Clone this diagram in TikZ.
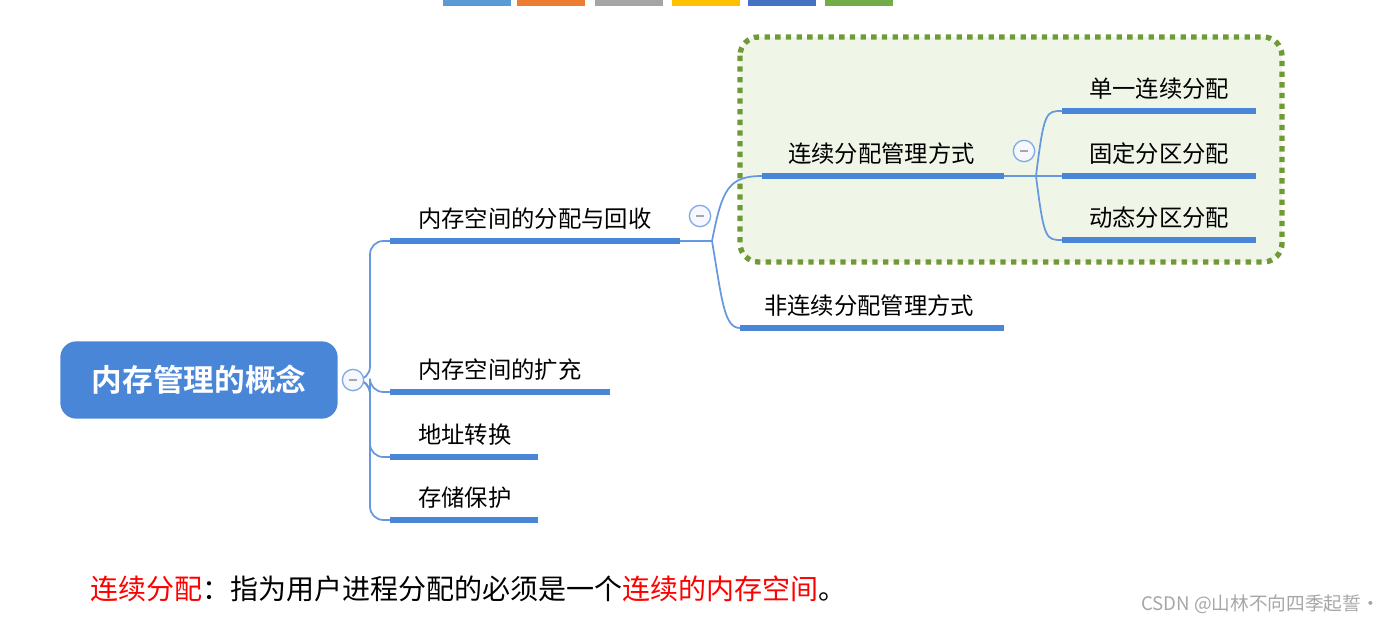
\documentclass[tikz,border=0pt]{standalone}
\usepackage{fontspec}
\setmainfont{Noto Sans CJK SC}
\newfontfamily\cjkbold[BoldFont={Noto Sans CJK SC Bold}]{Noto Sans CJK SC}
\usetikzlibrary{positioning, calc}
\definecolor{mapblue}{HTML}{4A86D8}
\definecolor{boxgreen}{HTML}{6F9A37}
\definecolor{boxfill}{HTML}{EFF6E8}
\begin{document}
\begin{tikzpicture}[
    x=0.75pt, y=-0.75pt,
    topic/.style={font=\fontsize{17.5}{20}\selectfont, inner sep=0pt, anchor=base west},
    uline/.style={mapblue, line width=4.5pt},
    link/.style={mapblue!85, line width=1.3pt},
    fold/.style={circle, draw=mapblue!70, fill=blue!3, line width=1pt, minimum size=16pt, inner sep=0pt},
    bar/.style={minimum width=51pt, minimum height=4pt, inner sep=0pt, anchor=north west}
]
    \useasboundingbox (0,0) rectangle (1394,622);

    % === Colour bars at top ===
    \foreach \xx/\cc in {443/5B9BD5, 517/ED7D31, 595/A5A5A5, 672/FFC000, 748/4472C4, 825/70AD47} {
        \definecolor{barcol}{HTML}{\cc}
        \node[bar, fill=barcol] (bar\xx) at (\xx,0) {};
    }

    % === Highlight box ===
    \draw[boxgreen, fill=boxfill, line width=4pt, dash pattern=on 4pt off 4pt, rounded corners=14pt]
        (740,37) rectangle (1282,262);

    % === Root ===
    \node[fill=mapblue, rounded corners=12pt, minimum width=208pt, minimum height=58pt,
          text=white, font=\cjkbold\bfseries\fontsize{23}{26}\selectfont] (root) at (199,380) {内存管理的概念};
    \coordinate (rootfold) at (353,380);

    % === First level ===
    \coordinate (trunk) at (370,380);
    \foreach \name/\yy/\xe/\txt in {alloc/241/680/内存空间的分配与回收, expand/392/610/内存空间的扩充,
                                    addr/457/538/地址转换, protect/520/538/存储保护} {
        \coordinate (\name-s) at (390,\yy);
        \coordinate (\name-e) at (\xe,\yy);
        \node[topic] (\name) at (418,\yy-14) {\txt};
        \draw[uline] (\name-s) -- (\name-e);
        \draw[link, rounded corners=10pt] (rootfold) -- (trunk) |- (\name-s);
    }
    \node[fold] at (rootfold) {\textcolor{gray!70}{\rule{6pt}{1.2pt}}};

    % === Second level ===
    \coordinate (allocjoin) at (712,241);
    \draw[link] (alloc-e) -- (allocjoin);
    \node[fold] (allocfold) at (700,216) {\textcolor{gray!70}{\rule{6pt}{1.2pt}}};
    \coordinate (cont-s) at (762,176);
    \coordinate (cont-e) at (1004,176);
    \coordinate (noncont-s) at (740,328);
    \coordinate (noncont-e) at (1004,328);
    \node[topic] (cont) at (788,162) {连续分配管理方式};
    \node[topic] (noncont) at (764,314) {非连续分配管理方式};
    \draw[uline] (cont-s) -- (cont-e);
    \draw[uline] (noncont-s) -- (noncont-e);
    \draw[link] (allocjoin) .. controls (722,190) and (728,176) .. (cont-s);
    \draw[link] (allocjoin) .. controls (722,300) and (724,328) .. (noncont-s);

    % === Third level ===
    \coordinate (contjoin) at (1036,176);
    \draw[link] (cont-e) -- (contjoin);
    \node[fold] (contfold) at (1024,151) {\textcolor{gray!70}{\rule{6pt}{1.2pt}}};
    \foreach \name/\yy/\txt in {single/111/单一连续分配, fixed/176/固定分区分配, dynamic/240/动态分区分配} {
        \coordinate (\name-s) at (1062,\yy);
        \coordinate (\name-e) at (1256,\yy);
        \node[topic] (\name) at (1089,\yy-14) {\txt};
        \draw[uline] (\name-s) -- (\name-e);
        \draw[link] (contjoin) .. controls (1044,\yy) and (1046,\yy) .. (\name-s);
    }

    % === Caption ===
    \node[anchor=base west, inner sep=0pt, font=\fontsize{21}{24}\selectfont] (caption) at (90,599)
        {\textcolor{red}{连续分配}：指为用户进程分配的必须是一个\textcolor{red}{连续的内存空间}。};
    \node[anchor=base east, inner sep=0pt, text=gray!70, font=\fontsize{14}{16}\selectfont] (mark) at (1380,610)
        {CSDN @山林不向四季起誓·};
\end{tikzpicture}
\end{document}
